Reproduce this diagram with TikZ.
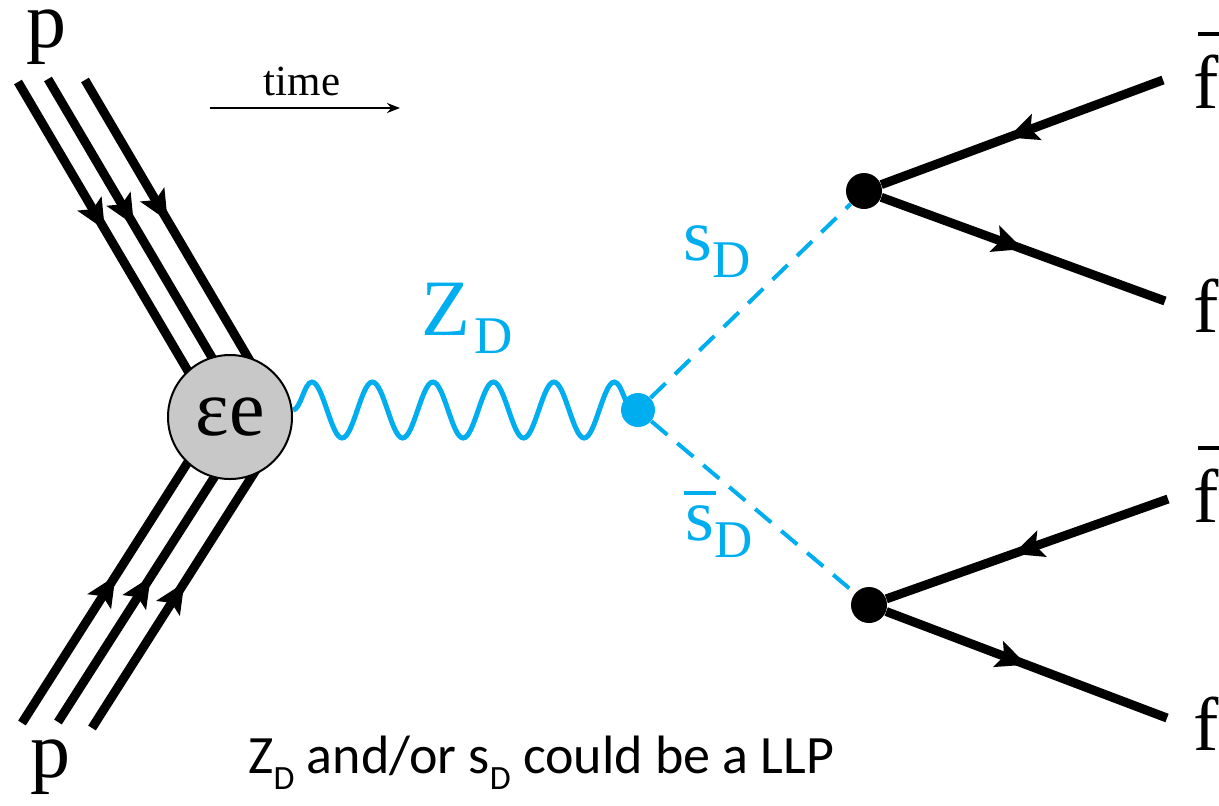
\documentclass[tikz,border=0pt]{standalone}
\usepackage{fontspec}
\setmainfont{Liberation Serif}
\newfontfamily\serifL{Liberation Serif}
\newfontfamily\capfont{Carlito}
\usetikzlibrary{arrows.meta,decorations.pathmorphing,decorations.markings,backgrounds}
\definecolor{cyanD}{RGB}{0,174,239}
\definecolor{blobgray}{RGB}{200,200,200}
\newcommand\fs[1]{\fontsize{#1}{#1}\selectfont}
\newcommand\fbarlbl{\rlap{\kern2.5pt\raisebox{36pt}{\rule{15pt}{2pt}}}f}
\begin{document}
\begin{tikzpicture}[x=0.5pt,y=-0.5pt,
  fline/.style={line width=4.5pt, postaction={decorate},
    decoration={markings, mark=at position #1 with {\arrow{Stealth[length=15pt,width=13.5pt,inset=3pt]}}}},
  dline/.style={cyanD, line width=2pt, dash pattern=on 10.5pt off 6.5pt},
  wave/.style={cyanD, line width=2.5pt, decorate, decoration={snake, segment length=30.25pt, amplitude=14pt}},
  vtx/.style={circle, fill=black, inner sep=0pt, minimum size=18pt},
  cvtx/.style={circle, fill=cyanD, inner sep=0pt, minimum size=17pt},
  blobst/.style={circle, draw=black, line width=1pt, fill=blobgray, inner sep=0pt, minimum size=62pt, font=\serifL},
  lbl/.style={inner sep=0pt, anchor=base west, font=\serifL},
  clbl/.style={inner sep=0pt, anchor=base west, text=cyanD, font=\serifL},
  plbl/.style={inner sep=0pt, anchor=base, font=\serifL},
]
\useasboundingbox (0,0) rectangle (1219,805);
% coordinates of free ends
\coordinate (a1) at (18,82);  \coordinate (a1e) at (205,400);
\coordinate (a2) at (48,79);  \coordinate (a2e) at (237,400);
\coordinate (a3) at (85,80);  \coordinate (a3e) at (273,400);
\coordinate (b1) at (22,723); \coordinate (b1e) at (202,440);
\coordinate (b2) at (58,722); \coordinate (b2e) at (238,440);
\coordinate (b3) at (92,728); \coordinate (b3e) at (275,440);
\coordinate (wstart) at (293,410);
\coordinate (f1) at (1163,80);  \coordinate (f2) at (1165,301);
\coordinate (f3) at (1168,499); \coordinate (f4) at (1167,718);
\coordinate (t0) at (210,108);  \coordinate (t1) at (400,108);
% nodes
\node[blobst] (blob) at (230,417) {\fs{40}εe};
\node[cvtx] (zdot) at (638,410) {};
\node[vtx] (v1) at (864,191) {};
\node[vtx] (v2) at (869,605) {};
% lines under the nodes
\begin{pgfonlayer}{background}
\draw[fline=0.465] (a1) -- (a1e);
\draw[fline=0.455] (a2) -- (a2e);
\draw[fline=0.44] (a3) -- (a3e);
\draw[fline=0.52] (b1) -- (b1e);
\draw[fline=0.515] (b2) -- (b2e);
\draw[fline=0.505] (b3) -- (b3e);
\draw[wave] (wstart) -- (zdot.center);
\end{pgfonlayer}
\draw[dline] (zdot) -- (v1);
\draw[dline] (zdot) -- (v2);
\draw[fline=0.55] (f1) -- (v1);
\draw[fline=0.5] (v1) -- (f2);
\draw[fline=0.55] (f3) -- (v2);
\draw[fline=0.5] (v2) -- (f4);
% time arrow
\node[plbl] (time) at (302,95) {\fs{21.5}time};
\draw[line width=1pt, -{Stealth[length=6.5pt,width=5pt]}] (t0) -- (t1);
% labels
\node[plbl] (ptop) at (46,47) {\fs{40}p};
\node[plbl] (pbot) at (50,777) {\fs{40}p};
\node[clbl] (zd) at (421,335) {\fs{40}Z\kern2pt\raisebox{-9pt}{\fs{26.5}D}};
\node[clbl] (sd) at (683,260) {\fs{37}s\raisebox{-8.5pt}{\fs{26.5}D}};
\node[clbl] (sdb) at (685,540) {\fs{37}\rlap{\kern-0.5pt\raisebox{22.5pt}{\rule{16pt}{2.25pt}}}s\raisebox{-8.5pt}{\fs{26.5}D}};
\node[lbl] (lf1) at (1193,108) {\fs{38}\fbarlbl};
\node[lbl] (lf2) at (1193,332) {\fs{38}f};
\node[lbl] (lf3) at (1193,522) {\fs{38}\fbarlbl};
\node[lbl] (lf4) at (1193,750) {\fs{38}f};
\node[inner sep=0pt, anchor=base west] (cap) at (248,773) {\capfont\fs{27}Z\raisebox{-8pt}{\fs{17}D} and/or s\raisebox{-8pt}{\fs{17}D} could be a LLP};
\end{tikzpicture}
\end{document}
